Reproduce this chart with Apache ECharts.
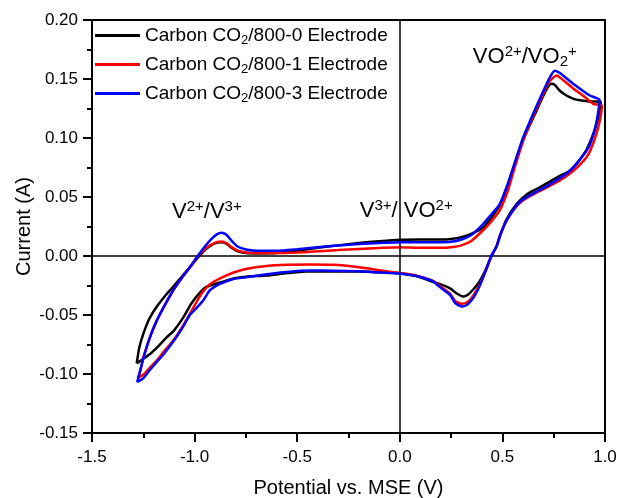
<!DOCTYPE html>
<html><head><meta charset="utf-8">
<script src="https://cdn.jsdelivr.net/npm/echarts@6/dist/echarts.min.js"></script>
<style>html,body{margin:0;padding:0;background:#fff}#c{width:620px;height:498px}</style>
</head><body><div id="c"></div>
<script>
const seriesNames = ['Carbon CO2/800-0 Electrode','Carbon CO2/800-1 Electrode','Carbon CO2/800-3 Electrode'];
const xTicks = [-1.5,-1.0,-0.5,0.0,0.5,1.0];
const yTicks = [-0.15,-0.10,-0.05,0.00,0.05,0.10,0.15,0.20];

const cv0 = [[-1.282,-0.091],[-1.27,-0.078],[-1.25,-0.066],[-1.22,-0.053],[-1.185,-0.043],[-1.14,-0.033],[-1.104,-0.026],[-1.06,-0.017],[-1.023,-0.0095],[-0.982,-0.001],[-0.95,0.005],[-0.92,0.009],[-0.89,0.0113],[-0.868,0.0117],[-0.845,0.0105],[-0.82,0.007],[-0.79,0.004],[-0.75,0.0025],[-0.7,0.0022],[-0.6,0.0025],[-0.5,0.0045],[-0.4,0.007],[-0.3,0.009],[-0.2,0.011],[-0.1,0.0125],[0,0.0137],[0.1,0.014],[0.2,0.014],[0.25,0.0145],[0.3,0.016],[0.35,0.019],[0.405,0.024],[0.44,0.031],[0.487,0.043],[0.526,0.060],[0.56,0.078],[0.60,0.098],[0.636,0.112],[0.666,0.123],[0.70,0.136],[0.725,0.144],[0.739,0.146],[0.755,0.145],[0.78,0.140],[0.812,0.136],[0.85,0.133],[0.877,0.132],[0.92,0.131],[0.958,0.131],[0.98,0.130],
[0.97,0.12],[0.95,0.107],[0.91,0.090],[0.87,0.080],[0.828,0.072],[0.78,0.068],[0.731,0.063],[0.68,0.058],[0.617,0.052],[0.569,0.044],[0.52,0.031],[0.49,0.018],[0.471,0.008],[0.447,0],[0.42,-0.011],[0.39,-0.021],[0.36,-0.028],[0.33,-0.033],[0.309,-0.0343],[0.28,-0.032],[0.25,-0.028],[0.228,-0.026],[0.19,-0.0235],[0.146,-0.021],[0.1,-0.018],[0.065,-0.0165],[0,-0.0146],[-0.1,-0.0137],[-0.2,-0.0132],[-0.3,-0.0132],[-0.438,-0.0129],[-0.55,-0.0145],[-0.649,-0.0165],[-0.75,-0.0175],[-0.81,-0.019],[-0.876,-0.0225],[-0.941,-0.026],[-0.974,-0.031],[-1.015,-0.040],[-1.055,-0.052],[-1.1,-0.063],[-1.136,-0.069],[-1.18,-0.077],[-1.217,-0.083],[-1.282,-0.091]];

const cv1 = [[-1.274,-0.103],[-1.26,-0.094],[-1.25,-0.086],[-1.22,-0.07],[-1.185,-0.055],[-1.14,-0.04],[-1.104,-0.029],[-1.06,-0.018],[-1.023,-0.0095],[-0.982,0],[-0.95,0.006],[-0.92,0.0095],[-0.89,0.012],[-0.868,0.0123],[-0.845,0.011],[-0.82,0.0075],[-0.79,0.0045],[-0.75,0.003],[-0.7,0.0025],[-0.6,0.0025],[-0.5,0.003],[-0.4,0.004],[-0.3,0.005],[-0.2,0.006],[-0.1,0.0068],[0,0.0075],[0.1,0.007],[0.2,0.007],[0.25,0.0075],[0.3,0.009],[0.35,0.013],[0.405,0.0216],[0.44,0.028],[0.487,0.0386],[0.526,0.055],[0.56,0.075],[0.60,0.097],[0.636,0.113],[0.666,0.125],[0.70,0.138],[0.73,0.148],[0.764,0.153],[0.79,0.150],[0.845,0.142],[0.9,0.135],[0.942,0.129],[0.985,0.1275],
[0.975,0.115],[0.958,0.1035],[0.93,0.09],[0.91,0.0837],[0.87,0.076],[0.828,0.0697],[0.78,0.064],[0.715,0.058],[0.66,0.053],[0.6,0.047],[0.569,0.042],[0.52,0.030],[0.49,0.018],[0.471,0.008],[0.447,0],[0.42,-0.012],[0.39,-0.024],[0.36,-0.033],[0.33,-0.039],[0.301,-0.0405],[0.27,-0.038],[0.245,-0.032],[0.2,-0.026],[0.162,-0.021],[0.1,-0.0175],[0.05,-0.0155],[0,-0.0145],[-0.1,-0.012],[-0.2,-0.0095],[-0.325,-0.0075],[-0.438,-0.0072],[-0.55,-0.0075],[-0.649,-0.0085],[-0.75,-0.011],[-0.81,-0.014],[-0.876,-0.019],[-0.925,-0.024],[-0.958,-0.030],[-0.974,-0.034],[-1.023,-0.049],[-1.06,-0.06],[-1.104,-0.0716],[-1.15,-0.081],[-1.185,-0.0886],[-1.22,-0.095],[-1.25,-0.1005],[-1.274,-0.103]];

const cv3 = [[-1.28,-0.107],[-1.265,-0.097],[-1.25,-0.087],[-1.22,-0.07],[-1.185,-0.055],[-1.14,-0.04],[-1.104,-0.029],[-1.06,-0.018],[-1.023,-0.0095],[-0.985,0],[-0.95,0.008],[-0.92,0.014],[-0.89,0.0185],[-0.868,0.0197],[-0.845,0.018],[-0.82,0.013],[-0.79,0.008],[-0.75,0.0055],[-0.7,0.0045],[-0.6,0.0045],[-0.5,0.0058],[-0.4,0.0075],[-0.3,0.009],[-0.2,0.0102],[-0.1,0.011],[0,0.0117],[0.1,0.0117],[0.2,0.0117],[0.25,0.012],[0.3,0.014],[0.35,0.018],[0.406,0.027],[0.44,0.034],[0.487,0.044],[0.526,0.061],[0.56,0.079],[0.60,0.1],[0.636,0.115],[0.666,0.127],[0.70,0.140],[0.73,0.151],[0.755,0.157],[0.78,0.155],[0.845,0.146],[0.9,0.139],[0.926,0.136],[0.974,0.132],
[0.965,0.12],[0.95,0.107],[0.92,0.092],[0.87,0.08],[0.828,0.072],[0.78,0.066],[0.715,0.059],[0.66,0.054],[0.6,0.048],[0.569,0.043],[0.52,0.030],[0.49,0.018],[0.471,0.008],[0.445,0],[0.42,-0.012],[0.39,-0.025],[0.36,-0.035],[0.33,-0.041],[0.301,-0.0428],[0.27,-0.040],[0.245,-0.033],[0.2,-0.027],[0.162,-0.0215],[0.1,-0.0178],[0.05,-0.016],[0,-0.015],[-0.1,-0.014],[-0.2,-0.013],[-0.325,-0.0125],[-0.438,-0.0123],[-0.55,-0.0135],[-0.649,-0.0155],[-0.75,-0.018],[-0.81,-0.0195],[-0.876,-0.0236],[-0.925,-0.029],[-0.958,-0.0377],[-0.99,-0.044],[-1.023,-0.05],[-1.06,-0.061],[-1.104,-0.0725],[-1.15,-0.083],[-1.185,-0.09],[-1.22,-0.097],[-1.25,-0.1035],[-1.28,-0.107]];

const annotations = [
  {x:-1.110, y:0.048, text:'{n|V}{sup|2+}{n|/V}{sup|3+}'},
  {x:-0.195, y:0.049, text:'{n|V}{sup|3+}{n|/ VO}{sup|2+}'},
  {x:0.356, y:0.179, text:'{n|VO}{sup|2+}{n|/VO}{sub|2}{sup|+}'}
];

const FONT = '"Liberation Sans", Arial, sans-serif';
const colors = ['#000000','#ff0000','#0000ff'];
const datas = [cv0, cv1, cv3];
const chart = echarts.init(document.getElementById('c'));

function legendFmt(name){
  const m = name.match(/^(.*CO)2(.*)$/);
  return '{n|' + m[1] + '}{sub|2}{n|' + m[2] + '}';
}

const axisCommon = {
  axisLine:{onZero:false, lineStyle:{color:'#000', width:2}},
  axisTick:{inside:false, length:9, lineStyle:{color:'#000', width:2}},
  minorTick:{show:true, splitNumber:2, length:5, lineStyle:{color:'#000', width:2}},
  splitLine:{show:false},
  nameMoveOverlap:false,
  nameTextStyle:{color:'#000', fontSize:20, fontFamily:FONT}
};

const option = {
  animation:false,
  backgroundColor:'#fff',
  grid:{left:92, right:15, top:20, bottom:65, containLabel:false, outerBoundsMode:'none',
        show:true, borderColor:'#000', borderWidth:2, backgroundColor:'transparent'},
  legend:{
    orient:'vertical', left:90, top:21, itemWidth:45, itemHeight:3, itemGap:8, icon:'rect',
    formatter: legendFmt,
    textStyle:{color:'#000', fontSize:19, fontFamily:FONT,
      rich:{n:{fontSize:19, fontFamily:FONT, color:'#000'}, sub:{fontSize:13, fontFamily:FONT, color:'#000', padding:[10,0,0,0]}}}
  },
  xAxis:Object.assign({}, axisCommon, {
    type:'value', min:-1.5, max:1.0, interval:0.5,
    name:'Potential vs. MSE (V)', nameLocation:'middle', nameGap:45,
    axisLabel:{color:'#000', fontSize:17, fontFamily:FONT, margin:16, formatter:v=>v.toFixed(1)}
  }),
  yAxis:Object.assign({}, axisCommon, {
    type:'value', min:-0.15, max:0.20, interval:0.05,
    name:'Current (A)', nameLocation:'middle', nameGap:58, nameRotate:90,
    axisLabel:{color:'#000', fontSize:17, fontFamily:FONT, margin:14, formatter:v=>v.toFixed(2)}
  }),
  series: seriesNames.map((n,i)=>({
    name:n, type:'line', data:datas[i], showSymbol:false, symbol:'none', smooth:0.2,
    lineStyle:{color:colors[i], width:2.5}, itemStyle:{color:colors[i]}, z:3+i,
    markLine: i===0 ? {symbol:'none', silent:true, label:{show:false},
      lineStyle:{color:'#000', width:1.5, type:'solid'}, data:[{yAxis:0},{xAxis:0}]} : undefined
  }))
};
chart.setOption(option);

chart.setOption({
  graphic: annotations.map(a=>{
    const p = chart.convertToPixel({gridIndex:0}, [a.x, a.y]);
    return {type:'text', x:p[0], y:p[1], z:10,
      style:{text:a.text, fill:'#000', font:'22px '+FONT,
        rich:{n:{fontSize:22, fontFamily:FONT, fill:'#000'},
              sup:{fontSize:15, fontFamily:FONT, fill:'#000', padding:[0,0,10,0]},
              sub:{fontSize:15, fontFamily:FONT, fill:'#000', padding:[10,0,0,0]}}}};
  })
});
</script></body></html>
